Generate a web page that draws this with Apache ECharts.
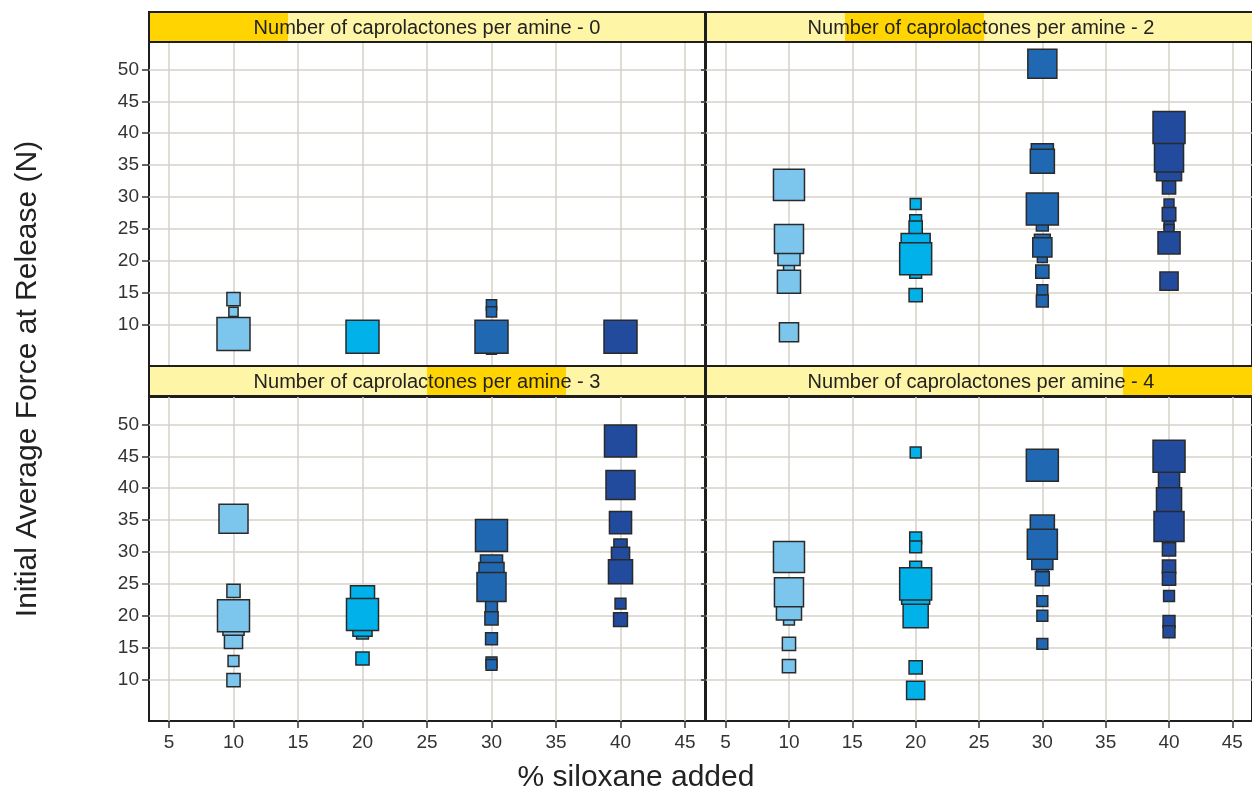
<!DOCTYPE html>
<html><head><meta charset="utf-8">
<script src="https://cdn.jsdelivr.net/npm/echarts@6/dist/echarts.min.js"></script>
<style>html,body{margin:0;padding:0;background:#fff}#c{width:1252px;height:792px}</style>
</head><body><div id="c"></div><script>
// ---------- data ----------
const panelTitles = ['Number of caprolactones per amine - 0','Number of caprolactones per amine - 2','Number of caprolactones per amine - 3','Number of caprolactones per amine - 4'];
const xTickValues = [5,10,15,20,25,30,35,40,45];
const yTickValues = [10,15,20,25,30,35,40,45,50];
const siloxaneLevels = [10,20,30,40];

// caprolactones = 0
const c0_siloxane = [10,10,10, 20, 30,30,30,30, 40];
const c0_force    = [14.0,12.0,8.5, 8.1, 13.1,12.0,8.1,6.1, 8.1];
const c0_weight   = [4,2.8,10, 10, 3.1,3.1,10,3, 10];

// caprolactones = 2
const c2_siloxane = [10,10,10,10,10,10, 20,20,20,20,20,20,20, 30,30,30,30,30,30,30,30,30,30,30, 40,40,40,40,40,40,40,40,40,40];
const c2_force    = [31.9,23.4,21.0,18.8,16.7,8.8, 28.9,26.3,25.2,22.0,20.3,18.2,14.6, 50.9,36.6,35.6,28.1,25.6,22.9,22.1,20.5,18.3,15.4,13.7, 40.9,36.2,34.5,31.5,28.9,27.3,25.8,24.9,22.8,16.8];
const c2_weight   = [9.4,8.8,6.7,3.3,7,5.8, 3.3,3.6,4,8.8,9.7,3.6,4, 8.8,6.7,7.3,9.7,3.6,4.8,5.8,3,4,3.3,3.6, 9.7,8.8,7.6,4,3,4.1,3,3,6.7,5.5];

// caprolactones = 3
const c3_siloxane = [10,10,10,10,10,10,10, 20,20,20,20,20, 30,30,30,30,30,30,30,30,30, 40,40,40,40,40,40,40,40];
const c3_force    = [35.2,23.9,20.0,18.6,16.3,12.9,9.9, 22.8,20.2,18.3,17.3,13.3, 32.6,27.8,26.4,24.5,21.5,19.6,16.4,12.7,12.3, 47.4,40.5,34.6,31.0,29.3,26.9,21.9,19.4];
const c3_weight   = [8.8,4,9.7,6.4,5.5,3.3,4, 7.3,9.7,5.8,3.6,4, 9.7,6.7,7.6,8.8,3.6,4,3.6,3.3,3.3, 9.7,8.8,6.7,4,5.5,7.3,3.3,4.2];

// caprolactones = 4
const c4_siloxane = [10,10,10,10,10,10, 20,20,20,20,20,20,20,20,20, 30,30,30,30,30,30,30,30,30, 40,40,40,40,40,40,40,40,40,40];
const c4_force    = [29.2,23.7,21.3,19.4,15.6,12.1, 45.6,32.2,30.8,27.6,25.0,24.0,20.1,11.9,8.3, 43.6,33.9,31.2,28.9,26.8,25.8,22.3,20.0,15.6, 45.0,41.6,38.1,34.0,30.4,27.7,25.8,23.1,19.1,17.5];
const c4_weight   = [9.4,8.8,7.6,3.3,4,4, 3.3,3.6,3.6,3.6,9.7,8.5,7.6,4,5.5, 9.7,7.3,9.1,6.4,3.6,4.2,3.3,3.3,3.3, 9.7,6.4,7.6,9.1,4,4,4,3.3,3.6,3.6];

const panels = [
  {x: c0_siloxane, y: c0_force, w: c0_weight},
  {x: c2_siloxane, y: c2_force, w: c2_weight},
  {x: c3_siloxane, y: c3_force, w: c3_weight},
  {x: c4_siloxane, y: c4_force, w: c4_weight}
];

// ---------- styles / layout ----------
const levelColors = {10:'#7cc6ee', 20:'#00b1ea', 30:'#2068b2', 40:'#234b9d'};
const FONT = '"Liberation Sans", Arial, sans-serif';
const PW = 556, PH = 324, HH = 30;
const colLeft = [149, 706];
const headerTop = [12, 366];
const plotTop = [42, 397];
const sizeScale = 3.3;

const grids = [], xAxes = [], yAxes = [], series = [], graphics = [];
panels.forEach((p, i) => {
  const col = i % 2, row = Math.floor(i / 2);
  const left = colLeft[col];
  grids.push({left: left, top: plotTop[row], width: PW, height: PH, show: true,
    backgroundColor: '#fff', borderColor: '#1e1e1e', borderWidth: 2});
  xAxes.push({type: 'value', gridIndex: i, min: 3.45, max: 46.55,
    axisLine: {show: false},
    axisTick: {show: row === 1, customValues: xTickValues, length: 7, lineStyle: {color: '#333', width: 1.5}},
    axisLabel: {show: row === 1, customValues: xTickValues, fontSize: 19, color: '#333', fontFamily: FONT, margin: 12},
    splitLine: {show: true, lineStyle: {color: '#d6d1c9', width: 1.5}}});
  yAxes.push({type: 'value', gridIndex: i, min: 3.5, max: 54.3,
    axisLine: {show: false},
    axisTick: {show: true, customValues: yTickValues, length: col === 0 ? 7 : 5, lineStyle: {color: '#333', width: 1.5}},
    axisLabel: {show: col === 0, customValues: yTickValues, fontSize: 19, color: '#333', fontFamily: FONT, margin: 10},
    splitLine: {show: true, lineStyle: {color: '#d6d1c9', width: 1.5}}});
  const pts = p.x.map((x, j) => [x, p.y[j], p.w[j]]).sort((a, b) => a[2] - b[2]);
  series.push({type: 'scatter', xAxisIndex: i, yAxisIndex: i, symbol: 'rect',
    data: pts, symbolSize: v => v[2] * sizeScale, clip: true,
    itemStyle: {color: prm => levelColors[prm.value[0]], borderColor: '#2a2a2a', borderWidth: 1.5, opacity: 1},
    emphasis: {disabled: true}});
  // header strip
  const ht = headerTop[row];
  graphics.push({type: 'rect', shape: {x: left, y: ht, width: PW, height: HH}, style: {fill: '#fff5a6'}, z: 10});
  graphics.push({type: 'rect', shape: {x: left + i * PW / 4, y: ht, width: PW / 4, height: HH}, style: {fill: '#ffd400'}, z: 11});
  graphics.push({type: 'rect', shape: {x: left, y: ht, width: PW, height: HH}, style: {fill: 'none', stroke: '#1e1e1e', lineWidth: 2}, z: 13});
  graphics.push({type: 'text', x: left + PW / 2 - (col === 1 ? 3 : 0), y: ht + HH / 2 + 1, z: 14,
    style: {text: panelTitles[i], fill: '#222', font: '20px ' + FONT, align: 'center', verticalAlign: 'middle'}});
});
graphics.push({type: 'text', x: 636, y: 778, z: 14,
  style: {text: '% siloxane added', fill: '#222', font: '30px ' + FONT, align: 'center', verticalAlign: 'middle'}});
graphics.push({type: 'text', x: 28, y: 379, rotation: Math.PI / 2, z: 14,
  style: {text: 'Initial Average Force at Release (N)', fill: '#222', font: '30px ' + FONT, align: 'center', verticalAlign: 'middle'}});

const chart = echarts.init(document.getElementById('c'), null, {renderer: 'canvas'});
chart.setOption({animation: false, backgroundColor: '#fff', grid: grids, xAxis: xAxes, yAxis: yAxes, series: series, graphic: graphics});
</script></body></html>
